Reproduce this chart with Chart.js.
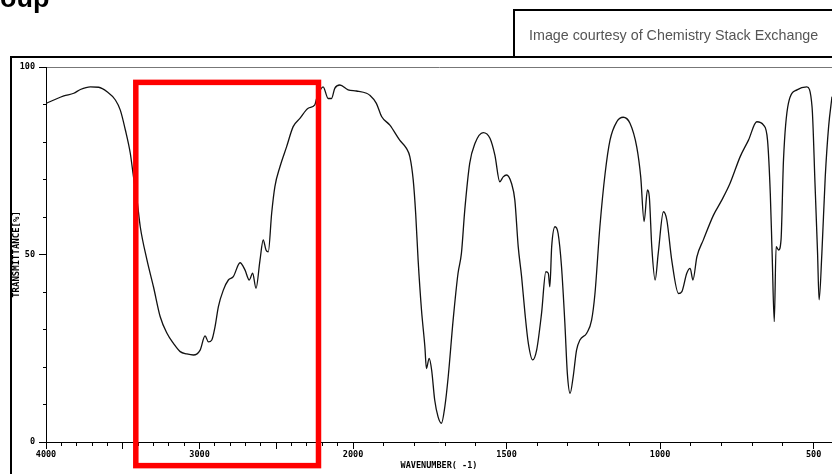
<!DOCTYPE html>
<html>
    <head>
        <meta charset="utf-8"/>
        <title>IR spectrum</title>
        <script src="https://cdn.jsdelivr.net/npm/chart.js@4.4.1/dist/chart.umd.min.js"></script>
        <style>
            body { margin: 0; background: #fff; overflow: hidden; }
        </style>
    </head>

    <body>
        <canvas id="chart" width="832" height="474"></canvas>

        <script>
           // spectrum: wavenumber (cm-1) and transmittance (%)
           var wavenumbers = [
               4000, 3949, 3884, 3819, 3776, 3711, 3657, 3602, 3548, 3516,
               3483, 3451, 3430, 3407, 3386, 3342, 3300, 3256, 3212, 3170,
               3126, 3083, 3040, 2996, 2964, 2942, 2920, 2899, 2877, 2845,
               2812, 2780, 2736, 2704, 2676, 2654, 2632, 2606, 2585, 2567,
               2552, 2530, 2509, 2476, 2433, 2390, 2346, 2292, 2249, 2238,
               2195, 2162, 2140, 2119, 2086, 2032, 1989, 1956, 1946, 1924,
               1907, 1880, 1848, 1826, 1815, 1804, 1796, 1788, 1777, 1766,
               1761, 1752, 1744, 1734, 1723, 1712, 1701, 1690, 1674, 1658,
               1647, 1636, 1620, 1603, 1576, 1554, 1538, 1522, 1511, 1500,
               1484, 1473, 1462, 1451, 1440, 1429, 1415, 1402, 1386, 1372,
               1364, 1359, 1353, 1342, 1332, 1321, 1310, 1302, 1293, 1283,
               1272, 1261, 1239, 1223, 1212, 1196, 1179, 1163, 1141, 1120,
               1098, 1076, 1063, 1052, 1041, 1035, 1027, 1016, 1006, 989,
               978, 962, 940, 929, 913, 902, 893, 880, 859, 826,
               799, 772, 739, 712, 685, 663, 650, 641, 635, 628,
               622, 614, 606, 598, 582, 554, 522, 505, 495, 487,
               482, 473, 462, 451, 440
           ];
           var transmittance = [
               90.3, 91.2, 92.3, 93.0, 94.0, 94.7, 94.6, 93.4, 91.2, 88.5,
               83.2, 77.0, 70.7, 64.5, 57.4, 48.5, 41.4, 33.4, 29.0, 26.3,
               24.1, 23.5, 23.2, 24.5, 28.3, 26.7, 27.2, 30.7, 36.1, 40.5,
               43.2, 44.1, 47.8, 45.9, 43.2, 45.0, 41.0, 48.5, 53.9, 51.2,
               50.7, 61.0, 68.1, 73.4, 78.7, 84.1, 86.3, 89.0, 89.9, 91.5,
               94.7, 91.6, 91.6, 94.3, 95.2, 93.9, 93.6, 93.0, 92.5, 90.3,
               86.8, 84.5, 80.5, 78.3, 76.1, 69.9, 61.0, 48.5, 35.2, 25.4,
               19.6, 22.3, 19.2, 11.2, 6.7, 5.0, 9.4, 17.4, 32.5, 45.0,
               50.3, 61.9, 74.3, 79.6, 82.5, 81.0, 76.5, 69.4, 70.7, 71.2,
               69.0, 64.5, 52.1, 44.1, 34.3, 26.3, 21.9, 24.5, 34.3, 45.4,
               45.0, 41.4, 52.1, 57.4, 55.6, 46.8, 31.6, 18.3, 13.0, 17.4,
               24.5, 27.2, 29.0, 32.5, 39.6, 57.4, 71.6, 80.5, 85.4, 86.6,
               85.0, 78.7, 70.7, 58.8, 67.2, 65.4, 52.1, 43.2, 50.3, 61.4,
               59.2, 48.5, 39.6, 40.1, 45.0, 46.3, 43.2, 49.4, 53.9, 60.5,
               64.5, 69.0, 76.1, 80.5, 85.4, 84.5, 80.5, 66.3, 50.3, 32.1,
               52.1, 51.2, 53.9, 75.2, 90.3, 93.9, 94.7, 89.4, 68.1, 50.3,
               37.9, 50.3, 70.7, 84.1, 92.1
           ];
           var xTickLabels = [4000, 3000, 2000, 1500, 1000, 500];
           var yTickLabels = [0, 50, 100];
           var xEnd = 440;                       // right edge of the plot, cm-1
           var highlightRange = [3415, 2225];    // red box, cm-1
           var highlightLevels = [-6.3, 95.9];   // red box, % transmittance

           // the axis is compressed 2x above 2000 cm-1
           var toAxis = function(w) {
               return w >= 2000 ? (4000 - w) / 2 : 1000 + (2000 - w);
           }
           var fromAxis = function(u) {
               return u <= 1000 ? Math.round(4000 - 2 * u) : Math.round(2000 - (u - 1000));
           }

           var tickFont = { family: 'DejaVu Sans Mono', size: 8.5, weight: 'bold' };

           var decorations = {
               id: 'decorations',
               beforeDraw: function(chart) {
                   var c = chart.ctx;
                   c.save();
                   c.fillStyle = '#fff';
                   c.fillRect(0, 0, chart.width, chart.height);
                   c.restore();
               },
               afterDraw: function(chart) {
                   var c = chart.ctx;
                   var xs = chart.scales.x, ys = chart.scales.y;
                   c.save();
                   // page frame and credit box
                   c.strokeStyle = '#000';
                   c.lineWidth = 2;
                   c.beginPath();
                   c.moveTo(11, chart.height); c.lineTo(11, 57); c.lineTo(chart.width, 57);
                   c.moveTo(514, 57); c.lineTo(514, 10); c.lineTo(chart.width, 10);
                   c.stroke();

                   c.fillStyle = '#555';
                   c.font = '14.3px "Liberation Sans", Arial, sans-serif';
                   c.textBaseline = 'alphabetic';
                   c.fillText('Image courtesy of Chemistry Stack Exchange', 529, 40);

                   c.fillStyle = '#000';
                   c.font = 'bold 27px "Liberation Sans", Arial, sans-serif';
                   c.fillText('oup', 0, 7);

                   // highlighted region
                   var x1 = xs.getPixelForValue(toAxis(highlightRange[0]));
                   var x2 = xs.getPixelForValue(toAxis(highlightRange[1]));
                   var y1 = ys.getPixelForValue(highlightLevels[1]);
                   var y2 = ys.getPixelForValue(highlightLevels[0]);
                   c.strokeStyle = '#ff0000';
                   c.lineWidth = 5.5;
                   c.strokeRect(x1, y1, x2 - x1, y2 - y1);
                   c.restore();
               }
           };

           var ctx = document.getElementById("chart");
           var myChart = new Chart(ctx, {
                type: 'line',
                data: {
                    datasets: [{
                        data: wavenumbers.map(function(w, i) {
                            return { x: toAxis(w), y: transmittance[i] };
                        }),
                        borderColor: '#111',
                        borderWidth: 1.3,
                        pointRadius: 0,
                        fill: false,
                        cubicInterpolationMode: 'monotone'
                    }]
                },
                options: {
                    responsive: false,
                    animation: false,
                    layout: { padding: { left: 0, top: 67, right: 0, bottom: 0 } },
                    plugins: {
                        legend: { display: false },
                        tooltip: { enabled: false }
                    },
                    scales: {
                        x: {
                            type: 'linear',
                            min: 0,
                            max: toAxis(xEnd),
                            afterBuildTicks: function(scale) {
                                var t = [];
                                for (var w = 4000; w >= 500; w -= 100) t.push({ value: toAxis(w) });
                                scale.ticks = t;
                            },
                            afterFit: function(scale) { scale.height = 32; },
                            border: { color: '#000', width: 1 },
                            grid: {
                                drawOnChartArea: false,
                                tickLength: 7,
                                tickColor: '#000',
                                tickBorderDash: function(c) {
                                    return c.tick && fromAxis(c.tick.value) % 500 === 0 ? [] : [3, 100];
                                }
                            },
                            ticks: {
                                autoSkip: false,
                                maxRotation: 0,
                                padding: 1,
                                color: '#000',
                                font: tickFont,
                                callback: function(v) {
                                    var w = fromAxis(v);
                                    return xTickLabels.indexOf(w) >= 0 ? String(w) : '';
                                }
                            },
                            title: {
                                display: true,
                                text: 'WAVENUMBER( -1)',
                                color: '#000',
                                font: tickFont,
                                padding: { top: 0, bottom: 3 }
                            }
                        },
                        y: {
                            min: 0,
                            max: 100,
                            afterFit: function(scale) { scale.width = 46; },
                            border: { color: '#000', width: 1 },
                            grid: {
                                color: function(c) {
                                    return c.tick && c.tick.value === 100 ? '#777' : 'rgba(0,0,0,0)';
                                },
                                tickLength: 7,
                                tickColor: '#000',
                                tickBorderDash: function(c) {
                                    return c.tick && c.tick.value % 50 === 0 ? [] : [0, 4, 3, 100];
                                }
                            },
                            ticks: {
                                stepSize: 10,
                                padding: 4,
                                color: '#000',
                                font: tickFont,
                                callback: function(v) {
                                    return yTickLabels.indexOf(v) >= 0 ? String(v) : '';
                                }
                            },
                            title: {
                                display: true,
                                text: 'TRANSMITTANCE[%]',
                                color: '#000',
                                font: { family: 'DejaVu Sans Mono', size: 9, weight: 'bold' },
                                padding: { top: 11, bottom: 0 }
                            }
                        }
                    }
                },
                plugins: [decorations]
           });
        </script>
    </body>
</html>
